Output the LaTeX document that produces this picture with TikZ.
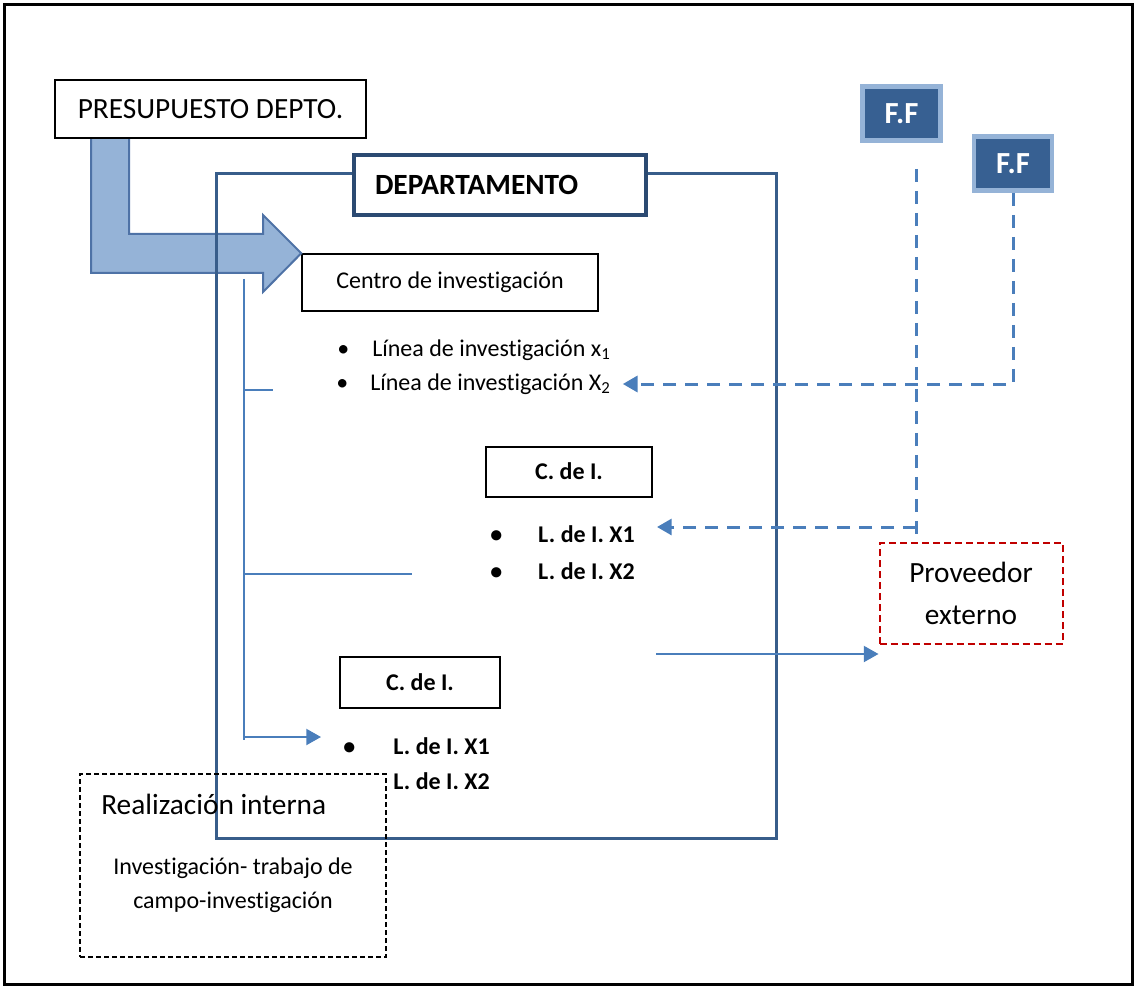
\documentclass[tikz,border=0pt]{standalone}
\usepackage{fontspec}
\setmainfont[Ligatures=NoCommon]{Carlito}
\usetikzlibrary{arrows.meta}
\newlength\unitpx
\setlength\unitpx{0.75pt}
\newcommand\vineta[1]{\makebox[#1\unitpx][l]{\textbullet}}
\definecolor{azulmarco}{HTML}{385D8A}
\definecolor{azuloscuro}{HTML}{2B4A72}
\definecolor{azullinea}{HTML}{4A7EBB}
\definecolor{azulclaro}{HTML}{95B3D7}
\definecolor{azulborde}{HTML}{4E72A6}
\definecolor{azulff}{HTML}{376092}
\definecolor{rojo}{HTML}{C00000}

\begin{document}
\begin{tikzpicture}[
  x=0.75pt, y=-0.75pt,
  caja/.style={draw=black, line width=1.5pt, fill=white, inner sep=0pt, align=center},
  cajaff/.style={draw=azulclaro, line width=3.4pt, fill=azulff, text=white, inner sep=0pt,
    minimum width=78\unitpx, minimum height=54\unitpx, font=\fontsize{23}{26}\selectfont\bfseries},
  chico/.style={font=\fontsize{18}{24}\selectfont},
  grande/.style={font=\fontsize{22}{32}\selectfont},
  lista/.style={inner sep=0pt, anchor=west},
  rama/.style={draw=azullinea, line width=1.5pt},
  guia/.style={draw=azullinea, line width=2.25pt, dash pattern=on 9.75pt off 6.75pt},
  punta/.style={-{Triangle[length=11pt,width=12pt]}},
  discontinua/.style={draw=black, line width=1.1pt, dash pattern=on 3.75pt off 2.25pt}
]
\useasboundingbox (0,0) rectangle (1136,988);
\draw[line width=2.25pt] (4,5) rectangle (1132,984);

\node[caja, line width=1.1pt, chico, minimum width=296\unitpx, minimum height=57\unitpx] (centro) at (450,282.5) {Centro de investigación};

\draw[fill=azulclaro, draw=azulborde, line width=1.5pt, line join=miter]
  (91,137) -- (129,137) -- (129,234) -- (263,234) -- (263,215) -- (centro.north west)
  -- (263,292) -- (263,273) -- (91,273) -- cycle;

\node[caja, grande, minimum width=311\unitpx, minimum height=58\unitpx] (presupuesto) at (210.5,109) {PRESUPUESTO DEPTO.};

\draw[draw=azulmarco, line width=2.25pt] (216,174) rectangle (776,838);
\node[caja, draw=azuloscuro, line width=3pt, font=\fontsize{22}{26}\selectfont\bfseries,
  minimum width=292\unitpx, minimum height=60\unitpx, text width=250\unitpx,
  inner xsep=21\unitpx, align=left] (departamento) at (500,185) {DEPARTAMENTO};

\node[lista, chico] (li1) at (337,350) {\vineta{35}Línea de investigación x\textsubscript{1}};
\node[lista, chico] (li2) at (336,384) {\vineta{34}Línea de investigación X\textsubscript{2}};

\node[caja, chico, font=\fontsize{18}{24}\selectfont\bfseries, minimum width=166\unitpx, minimum height=50\unitpx] (cdi1) at (569,471.5) {C. de I.};
\node[lista, chico, font=\fontsize{18}{24}\selectfont\bfseries] (lx1a) at (490,534) {\vineta{48}L. de I. X1};
\node[lista, chico, font=\fontsize{18}{24}\selectfont\bfseries] (lx1b) at (490,571) {\vineta{48}L. de I. X2};

\node[caja, chico, font=\fontsize{18}{24}\selectfont\bfseries, minimum width=160\unitpx, minimum height=51\unitpx] (cdi2) at (420,682.5) {C. de I.};
\node[lista, chico, font=\fontsize{18}{24}\selectfont\bfseries] (lx2a) at (343,746) {\vineta{50}L. de I. X1};
\node[lista, chico, font=\fontsize{18}{24}\selectfont\bfseries] (lx2b) at (393,781) {L. de I. X2};

\node[draw=black, discontinua, minimum width=306\unitpx, minimum height=183\unitpx] (realizacion) at (233,865.5) {};
\node[lista, grande] (realtit) at (101,804) {Realización interna};
\node[chico, align=center, font=\fontsize{18}{25.5}\selectfont] (realtexto) at (233,885) {Investigación- trabajo de\\campo-investigación};

\node[draw=rojo, line width=1.5pt, dash pattern=on 5.25pt off 3pt, grande, align=center,
  minimum width=183\unitpx, minimum height=101\unitpx, inner sep=0pt] (proveedor) at (971,593.5) {Proveedor\\externo};

\node[cajaff] (ff1) at (901.5,113.5) {F.F};
\node[cajaff] (ff2) at (1013,163.5) {F.F};

\coordinate (tronco) at (244,279);
\coordinate (troncofin) at (244,740);
\coordinate (rama1) at (273,390);
\coordinate (rama2) at (412,574);
\coordinate (rama3) at (321,737);
\draw[rama] (tronco) -- (troncofin);
\draw[rama] (rama1 -| tronco) -- (rama1);
\draw[rama] (rama2 -| tronco) -- (rama2);
\draw[rama, punta] (rama3 -| tronco) -- (rama3);

\coordinate (salida) at (656,654);
\draw[rama, punta] (salida) -- (salida -| proveedor.west);

\coordinate (bajada) at ([xshift=14.5\unitpx]ff1.south);
\coordinate (puntaA) at (657,527);
\draw[guia, shorten <=26\unitpx] (bajada) -- (bajada |- proveedor.north);
\draw[guia, punta] (puntaA -| bajada) -- (puntaA);
\draw[guia, punta] (ff2.south) |- ([xshift=12\unitpx]li2.east);
\end{tikzpicture}
\end{document}
